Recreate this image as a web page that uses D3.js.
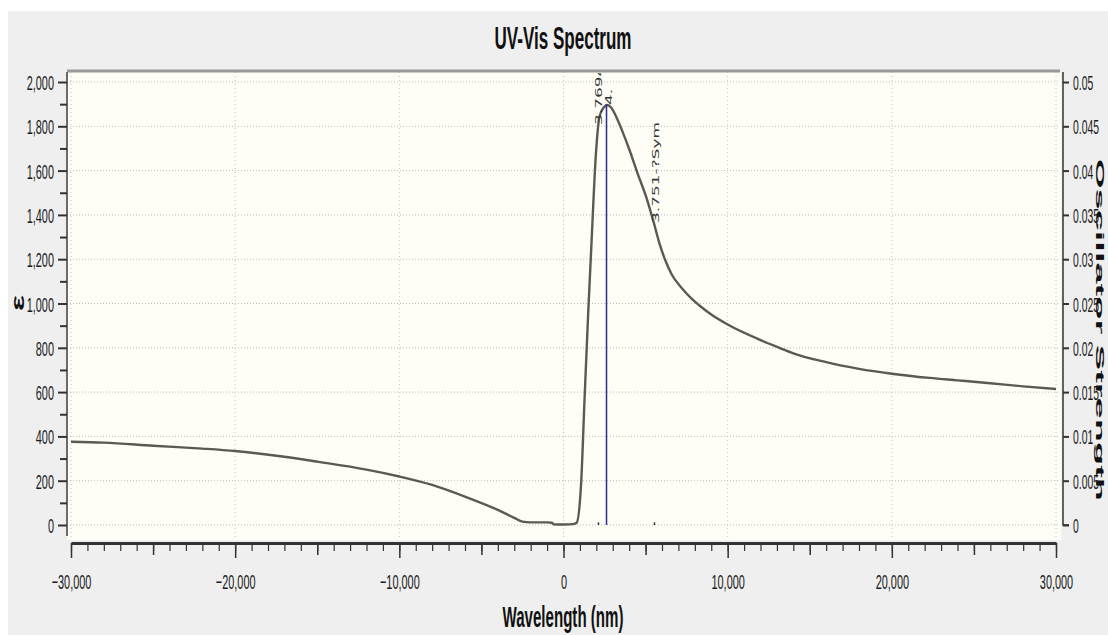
<!DOCTYPE html>
<html>
<head>
<meta charset="utf-8">
<script src="https://cdn.jsdelivr.net/npm/d3@7"></script>
<style>
  body { margin: 0; background: #fff; }
  svg { display: block; }
</style>
</head>
<body>
<div id="chart"></div>
<script>
// broadened absorption curve (wavelength axis, epsilon)
const wavelengths = [-30000, -28000, -25000, -22000, -20000, -17000, -15000, -12000, -10000, -8000,
  -6000, -4000, -3000, -2500, -2000, -1000, -700, -600, 0, 600, 800, 1075, 1280, 1500, 1685, 1990,
  2190, 2450, 2660, 2900, 3210, 3600, 4020, 4500, 5040, 5500, 5850, 6200, 6600, 7200, 7800, 8280, 9000,
  10000, 12000, 13150, 14000, 16000, 18000, 20000, 22300, 24000, 26000, 28000, 30000];
const epsilon = [376, 372, 358, 345, 334, 308, 286, 250, 219, 181,
  128, 68, 32, 15, 12, 12, 10, 3, 2, 4, 10, 190, 564, 950, 1241, 1693,
  1843, 1885, 1896, 1885, 1843, 1775, 1693, 1590, 1480, 1365, 1270, 1195, 1130, 1070, 1022, 991, 950,
  905, 835, 800, 775, 735, 705, 683, 664, 653, 640, 626, 614];

// transition sticks (oscillator strength)
const stickPos = [2130, 2620, 5540];
const stickStrength = [0.0003, 0.0475, 0.0003];

const yTicks = d3.range(0, 2001, 200);
const yMinor = d3.range(100, 2000, 200);
const xTicks = d3.range(-30000, 30001, 10000);
const xMid = d3.range(-25000, 30000, 10000);
const xMinor = d3.range(-30000, 30001, 1000);
const fTicks = d3.range(0, 0.0501, 0.005);

const W = 1108, H = 635;
const plot = {left: 67, right: 1061, top: 72, bottom: 540};
const squeeze = 0.52;

const svg = d3.select("#chart").append("svg")
  .attr("width", W)
  .attr("height", H)
  .style("font-family", "'Liberation Sans', Arial, sans-serif");

svg.append("rect")
  .attr("x", 8).attr("y", 11)
  .attr("width", W - 8).attr("height", H - 11)
  .attr("fill", "#efefef");

const x = d3.scaleLinear().domain([-30000, 30000]).range([71, 1056]);
const y = d3.scaleLinear().domain([0, 2000]).range([525, 82]);
const y2 = d3.scaleLinear().domain([0, 0.05]).range([525, 82]);

// plot background
svg.append("rect")
  .attr("x", plot.left).attr("y", plot.top)
  .attr("width", plot.right - plot.left).attr("height", plot.bottom - plot.top)
  .attr("fill", "#fefef6");

svg.append("defs").append("clipPath")
  .attr("id", "clip")
  .append("rect")
  .attr("x", plot.left).attr("y", plot.top + 1)
  .attr("width", plot.right - plot.left).attr("height", plot.bottom - plot.top);

// dotted grid
svg.append("g").selectAll("line")
  .data(yTicks)
  .join("line")
  .attr("x1", plot.left).attr("x2", plot.right - 2)
  .attr("y1", d => y(d)).attr("y2", d => y(d))
  .attr("stroke", "#bdbdb4")
  .attr("stroke-width", 1)
  .attr("stroke-dasharray", "1,2");

svg.append("g").selectAll("line")
  .data(xTicks)
  .join("line")
  .attr("x1", d => x(d)).attr("x2", d => x(d))
  .attr("y1", plot.top).attr("y2", plot.bottom)
  .attr("stroke", "#c4c4bc")
  .attr("stroke-width", 1)
  .attr("stroke-dasharray", "1,3");

// top border
svg.append("line")
  .attr("x1", plot.left).attr("x2", plot.right - 1)
  .attr("y1", plot.top - 1).attr("y2", plot.top - 1)
  .attr("stroke", "#9a9a96")
  .attr("stroke-width", 3);

// right-hand axis title, squeezed into the strip beside the tick labels
svg.append("text")
  .attr("transform", "translate(1096,330) scale(0.3,1) rotate(90)")
  .attr("text-anchor", "middle")
  .attr("fill", "#111")
  .style("font-size", "38px")
  .style("font-weight", "bold")
  .text("Oscillator Strength");

function squeezeText(sel, dx, dy) {
  sel.attr("x", 0).attr("y", 0).attr("dy", null)
    .attr("transform", `translate(${dx},${dy}) scale(${squeeze},1)`);
}

// left axis
const leftAxis = svg.append("g")
  .attr("transform", `translate(${plot.left},0)`)
  .call(d3.axisLeft(y).tickValues(yTicks).tickFormat(d3.format(",")).tickSize(9).tickSizeOuter(0));
leftAxis.select(".domain").attr("d", `M0,${plot.top}V${plot.bottom - 4}`).attr("stroke", "#6a6a66").attr("stroke-width", 2);
leftAxis.selectAll(".tick line").attr("stroke", "#333").attr("stroke-width", 2);
leftAxis.selectAll(".tick text")
  .attr("fill", "#1a1a1a")
  .style("font-size", "21px")
  .call(squeezeText, -13, 7.5);

svg.append("g")
  .attr("transform", `translate(${plot.left},0)`)
  .call(d3.axisLeft(y).tickValues(yMinor).tickFormat("").tickSize(7))
  .call(g => g.select(".domain").remove())
  .selectAll(".tick line").attr("stroke", "#333").attr("stroke-width", 2);

// bottom axis
const xAxisY = 543;
svg.append("g")
  .attr("transform", `translate(0,${xAxisY})`)
  .call(d3.axisBottom(x).tickValues(xMinor).tickFormat("").tickSize(8).tickSizeOuter(0))
  .call(g => g.select(".domain").attr("stroke", "#333").attr("stroke-width", 3))
  .selectAll(".tick line").attr("stroke", "#333").attr("stroke-width", 1.2);

svg.append("g")
  .attr("transform", `translate(0,${xAxisY})`)
  .call(d3.axisBottom(x).tickValues(xMid).tickFormat("").tickSize(12))
  .call(g => g.select(".domain").remove())
  .selectAll(".tick line").attr("stroke", "#333").attr("stroke-width", 1.5);

const bottomAxis = svg.append("g")
  .attr("transform", `translate(0,${xAxisY})`)
  .call(d3.axisBottom(x).tickValues(xTicks).tickFormat(d3.format(",")).tickSize(15));
bottomAxis.select(".domain").remove();
bottomAxis.selectAll(".tick line").attr("stroke", "#333").attr("stroke-width", 1.5);
bottomAxis.selectAll(".tick text")
  .attr("fill", "#1a1a1a")
  .style("font-size", "21px")
  .call(squeezeText, 0, 46);

// right axis
const rightAxis = svg.append("g")
  .attr("transform", "translate(1063,0)")
  .call(d3.axisRight(y2).tickValues(fTicks).tickFormat(d => String(+d.toFixed(3))).tickSize(6).tickSizeOuter(0));
rightAxis.select(".domain").attr("d", `M0,${plot.top}V${y2(0)}H6`).attr("stroke", "#333").attr("stroke-width", 1.5);
rightAxis.selectAll(".tick line").attr("stroke", "#333").attr("stroke-width", 2);
rightAxis.selectAll(".tick text")
  .attr("fill", "#1a1a1a")
  .style("font-size", "20px")
  .call(squeezeText, 10, 7.5);

// spectrum curve
const pts = wavelengths.map((w, i) => [w, epsilon[i]]);
const body = svg.append("g").attr("clip-path", "url(#clip)");

body.append("path")
  .datum(pts)
  .attr("fill", "none")
  .attr("stroke", "#5a5a50")
  .attr("stroke-width", 2.4)
  .attr("d", d3.line().x(d => x(d[0])).y(d => y(d[1])).curve(d3.curveMonotoneX));

// transition sticks
body.selectAll(".stick")
  .data(stickPos.map((p, i) => ({p, f: stickStrength[i]})))
  .join("line")
  .attr("class", "stick")
  .attr("x1", d => x(d.p)).attr("x2", d => x(d.p))
  .attr("y1", y2(0)).attr("y2", d => Math.min(y2(d.f), y2(0) - 2))
  .attr("stroke", d => d.f > 0.01 ? "#2a2a9a" : "#333")
  .attr("stroke-width", 1.5);

// peak annotations
const notes = [
  {text: "3.7694", px: 2620 - 600, py: 125},
  {text: "4.", px: 2620, py: 105},
  {text: "3.751-?Sym", px: 5540, py: 223}
];
body.selectAll(".note")
  .data(notes)
  .join("text")
  .attr("class", "note")
  .attr("transform", d => `translate(${x(d.px) + 5},${d.py}) scale(${squeeze},1) rotate(-90)`)
  .attr("fill", "#333")
  .style("font-family", "'DejaVu Sans', sans-serif")
  .style("font-size", "17px")
  .text(d => d.text);

// titles
svg.append("text")
  .attr("transform", `translate(563,49) scale(0.55,1)`)
  .attr("text-anchor", "middle")
  .attr("fill", "#111")
  .style("font-size", "31px")
  .style("font-weight", "bold")
  .text("UV-Vis Spectrum");

svg.append("text")
  .attr("transform", `translate(563,627) scale(0.52,1)`)
  .attr("text-anchor", "middle")
  .attr("fill", "#111")
  .style("font-size", "29px")
  .style("font-weight", "bold")
  .text("Wavelength (nm)");

svg.append("text")
  .attr("transform", `translate(24,303) scale(${squeeze},1) rotate(-90)`)
  .attr("text-anchor", "middle")
  .attr("fill", "#111")
  .style("font-size", "34px")
  .style("font-weight", "bold")
  .text("ε");
</script>
</body>
</html>
